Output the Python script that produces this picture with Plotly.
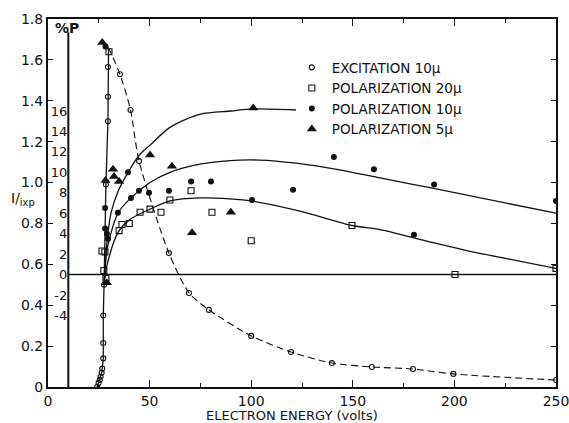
import plotly.graph_objects as go

# ---- Excitation, 10 micron slit: relative intensity I/ixp ----
exc_rise_v = [24.2, 24.9, 25.5, 25.9, 26.4, 26.7, 27.2, 27.2, 27.2, 27.6, 28.5, 29.5, 29.5, 29.5]
exc_rise_i = [0.0, 0.02, 0.035, 0.05, 0.07, 0.09, 0.14, 0.215, 0.35, 0.50, 0.99, 1.30, 1.42, 1.565]
exc_peak_v = [29.8]
exc_peak_i = [1.66]
exc_fall_v = [35.4, 40.6, 44.8, 59.5, 69.4, 79.2, 100, 119.6, 139.7, 159.4, 179.6, 199.5, 250]
exc_fall_i = [1.53, 1.355, 1.105, 0.655, 0.46, 0.377, 0.25, 0.171, 0.117, 0.098, 0.088, 0.064, 0.034]

# ---- Polarization (%P) measurements ----
pol20_v = [26.6, 28.0, 27.5, 28.5, 35.0, 36.4, 40.0, 45.3, 50.2, 55.6, 60.0, 70.4, 80.7, 100.0, 149.6, 200.3, 250.0, 30.0]
pol20_p = [2.3, 2.2, 0.4, -0.35, 4.3, 4.9, 5.0, 6.1, 6.4, 6.1, 7.3, 8.2, 6.1, 3.3, 4.8, 0.0, 0.6, 21.8]

pol10_v = [28.1, 28.1, 29.0, 29.5, 34.4, 39.4, 40.8, 44.8, 49.7, 59.5, 70.4, 80.2, 100.4, 120.6, 140.7, 160.4, 180.1, 190.0, 250.0, 28.3]
pol10_p = [6.5, 4.5, 4.0, 3.5, 6.05, 10.0, 7.5, 8.2, 8.0, 8.2, 9.1, 9.1, 7.3, 8.3, 11.5, 10.3, 3.9, 8.8, 7.2, 22.3]

pol5_v = [26.7, 28.3, 29.0, 32.0, 32.5, 35.0, 50.2, 61.0, 70.9, 90.0, 101.0]
pol5_p = [22.7, 9.2, -0.8, 10.3, 9.6, 9.1, 11.7, 10.6, 4.1, 6.1, 16.3]

# ---- Smooth curves drawn through the polarization data (%P) ----
fit5_v = [27.8, 29.0, 31.0, 34.4, 39.4, 45.0, 51.0, 60.0, 75.0, 90.0, 101.0, 122.0]
fit5_p = [-0.5, 3.1, 6.0, 8.1, 10.0, 11.7, 12.8, 14.4, 15.7, 16.0, 16.2, 16.1]

fit10_v = [27.8, 29.0, 34.4, 40.8, 50.2, 60.0, 74.8, 89.6, 104.0, 122.0, 142.0, 163.4, 188.0, 250.0]
fit10_p = [-0.5, 2.4, 6.0, 7.5, 9.0, 10.0, 10.8, 11.15, 11.2, 10.9, 10.3, 9.45, 8.5, 6.0]

fit20_v = [27.8, 29.0, 34.4, 40.4, 50.2, 60.0, 74.8, 89.6, 100.2, 124.0, 149.6, 163.4, 188.0, 205.0, 250.0]
fit20_p = [-0.5, 0.9, 4.1, 5.4, 6.4, 7.2, 7.5, 7.4, 7.2, 6.2, 4.8, 4.4, 3.2, 2.4, 0.6]

# ---- Axes ----
x_range = [0, 250]
x_ticks = [0, 50, 100, 150, 200, 250]
i_range = [0, 1.8]
i_ticks = [0, 0.2, 0.4, 0.6, 0.8, 1.0, 1.2, 1.4, 1.6, 1.8]
i_labels = ["0", "0.2", "0.4", "0.6", "0.8", "1.0", "1.2", "1.4", "1.6", "1.8"]
p_zero_i = 0.55      # I/ixp level of %P = 0
p_unit_i = 0.05      # I/ixp per 1 %P
p_ticks = [-4, -2, 0, 2, 4, 6, 8, 10, 12, 14, 16]
p_axis_v = 10        # position of the %P scale on the energy axis

p_range = [(i_range[0] - p_zero_i) / p_unit_i, (i_range[1] - p_zero_i) / p_unit_i]

FONT = "DejaVu Sans"
INK = "#111111"

fig = go.Figure()

# excitation curve: solid rise, dashed fall
fig.add_trace(go.Scatter(
    x=exc_rise_v + exc_peak_v, y=exc_rise_i + exc_peak_i, mode="lines",
    line=dict(color=INK, width=1.3), showlegend=False, hoverinfo="skip"))
fig.add_trace(go.Scatter(
    x=exc_peak_v + exc_fall_v, y=exc_peak_i + exc_fall_i, mode="lines",
    line=dict(color=INK, width=1.1, dash="7px,4px", shape="spline", smoothing=0.7),
    showlegend=False, hoverinfo="skip"))

for fv, fp in [(fit5_v, fit5_p), (fit10_v, fit10_p), (fit20_v, fit20_p)]:
    fig.add_trace(go.Scatter(
        x=fv, y=fp, yaxis="y2", mode="lines",
        line=dict(color=INK, width=1.3, shape="spline", smoothing=0.8),
        showlegend=False, hoverinfo="skip"))

fig.add_trace(go.Scatter(
    x=exc_rise_v + exc_fall_v, y=exc_rise_i + exc_fall_i, mode="markers",
    name="EXCITATION 10μ",
    marker=dict(symbol="circle-open", size=5, color=INK, line=dict(width=1.1))))
fig.add_trace(go.Scatter(
    x=pol20_v, y=pol20_p, yaxis="y2", mode="markers", name="POLARIZATION 20μ",
    marker=dict(symbol="square-open", size=6, color=INK, line=dict(width=1.1))))
fig.add_trace(go.Scatter(
    x=pol10_v, y=pol10_p, yaxis="y2", mode="markers", name="POLARIZATION 10μ",
    marker=dict(symbol="circle", size=6, color=INK)))
fig.add_trace(go.Scatter(
    x=pol5_v, y=pol5_p, yaxis="y2", mode="markers", name="POLARIZATION 5μ",
    marker=dict(symbol="triangle-up", size=9, color=INK)))

# %P scale line and its zero line
fig.add_shape(type="line", xref="x", yref="y", x0=p_axis_v, x1=p_axis_v,
              y0=0, y1=1.735, line=dict(color=INK, width=2))
fig.add_shape(type="line", xref="x", yref="y2", x0=p_axis_v, x1=x_range[1],
              y0=0, y1=0, line=dict(color=INK, width=1.5))

fig.add_annotation(text="<b>%P</b>", xref="paper", yref="paper", x=0.037, y=0.975,
                   xanchor="center", yanchor="middle", showarrow=False,
                   font=dict(family=FONT, size=14, color=INK))
fig.add_annotation(text="I/<sub>ixp</sub>", xref="paper", yref="paper", x=-0.05, y=0.512,
                   xanchor="center", yanchor="middle", showarrow=False,
                   font=dict(family=FONT, size=14, color=INK))
fig.add_annotation(text="ELECTRON ENERGY (volts)", xref="paper", yref="paper",
                   x=0.48, y=-0.077, xanchor="center", yanchor="middle", showarrow=False,
                   font=dict(family=FONT, size=13, color=INK))

fig.update_layout(
    width=569, height=423,
    margin=dict(l=48, r=13, t=19, b=36, autoexpand=False),
    paper_bgcolor="white", plot_bgcolor="white",
    font=dict(family=FONT, color=INK),
    xaxis=dict(range=x_range, showline=True, linecolor=INK, linewidth=2, mirror="ticks",
               ticks="inside", ticklen=7, tickwidth=1.3, tickcolor=INK,
               tickvals=x_ticks, ticktext=[str(t) for t in x_ticks],
               minor=dict(dtick=25, ticks="inside", ticklen=4, tickcolor=INK),
               showgrid=False, zeroline=False, tickfont=dict(size=14),
               ticklabeloverflow="allow", automargin=False),
    yaxis=dict(range=i_range, showline=True, linecolor=INK, linewidth=2, mirror="ticks",
               ticks="inside", ticklen=5, tickwidth=1.2, tickcolor=INK,
               tickvals=i_ticks, ticktext=i_labels,
               showgrid=False, zeroline=False, tickfont=dict(size=14), automargin=False),
    yaxis2=dict(range=p_range, overlaying="y", anchor="free",
                position=(p_axis_v - x_range[0]) / (x_range[1] - x_range[0]),
                side="left", tickvals=p_ticks, ticktext=[str(t) for t in p_ticks],
                ticks="", ticklabelstandoff=1, showline=False,
                showgrid=False, zeroline=False, tickfont=dict(size=13), automargin=False),
    legend=dict(x=0.48, y=0.91, xanchor="left", yanchor="top",
                bgcolor="rgba(0,0,0,0)", font=dict(size=13.5), tracegroupgap=0,
                itemwidth=30),
    showlegend=True,
)

fig.write_html("out.html")
